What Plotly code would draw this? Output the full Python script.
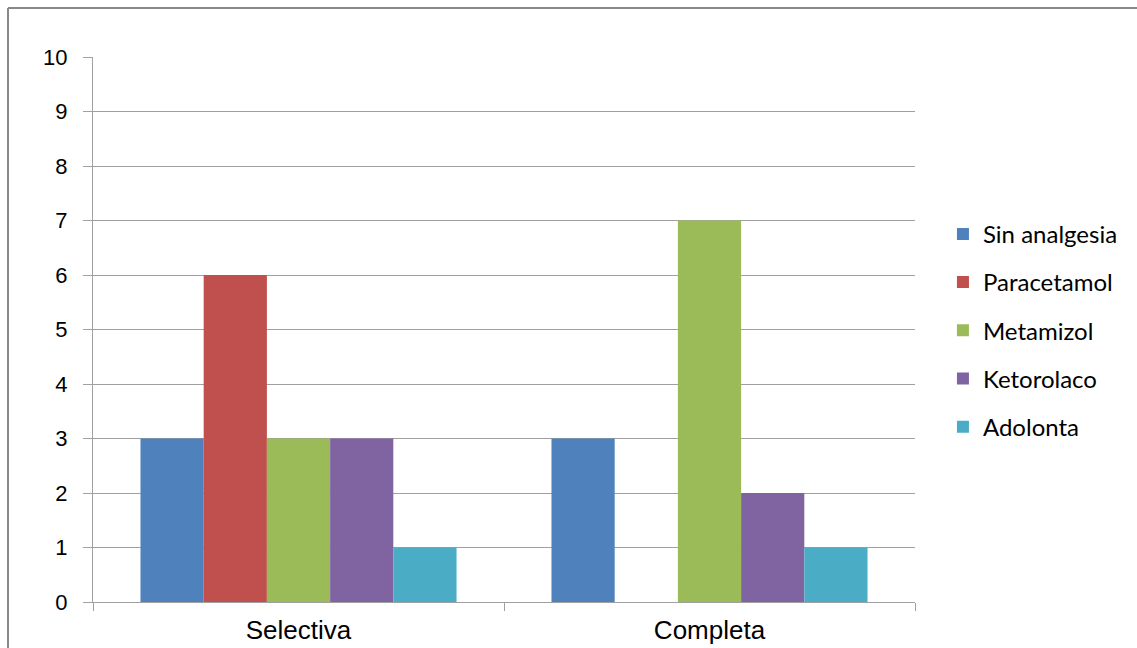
import plotly.graph_objects as go

categories = ["Selectiva", "Completa"]
series_names = ["Sin analgesia", "Paracetamol", "Metamizol", "Ketorolaco", "Adolonta"]
sin_analgesia = [3, 3]
paracetamol = [6, 0]
metamizol = [3, 7]
ketorolaco = [3, 2]
adolonta = [1, 1]
y_ticks = list(range(0, 11))

values = [sin_analgesia, paracetamol, metamizol, ketorolaco, adolonta]
colors = ["#4F81BD", "#C0504D", "#9BBB59", "#8064A2", "#4BACC6"]

fig = go.Figure()
for i, (name, vals, col) in enumerate(zip(series_names, values, colors)):
    fig.add_trace(go.Bar(
        x=categories, y=vals, name=name, marker_color=col,
        marker_line_width=0, legendgroup=name,
    ))

grid = "#A0A0A0"
W = 822.0
H = 545.0
fig.update_layout(
    width=1137, height=648,
    margin=dict(l=93, r=222, t=57, b=46, autoexpand=False),
    paper_bgcolor="white", plot_bgcolor="white",
    barmode="group", bargap=0.231, bargroupgap=0,
    font=dict(family="Liberation Sans, Arial, sans-serif", color="#000000"),
    legend=dict(
        x=1.034, y=0.716, xanchor="left", yanchor="top",
        font=dict(family="Lato, Open Sans, sans-serif", size=24, color="#000"),
        traceorder="grouped", tracegroupgap=14,
        bgcolor="rgba(0,0,0,0)", itemclick=False,
    ),
    xaxis=dict(
        type="category", showgrid=False, showline=True, linecolor=grid,
        ticks="outside", tickson="boundaries", ticklen=8, tickcolor=grid,
        tickfont=dict(size=26, family="Liberation Sans, Arial, sans-serif"),
        ticklabelstandoff=5, automargin=False,
        fixedrange=True,
    ),
    yaxis=dict(
        range=[0, 10], tickvals=y_ticks, showgrid=True, gridcolor=grid, gridwidth=1,
        showline=True, linecolor=grid, ticks="outside", ticklen=9, tickcolor=grid,
        tickfont=dict(size=22, family="Liberation Sans, Arial, sans-serif"),
        ticklabelstandoff=11, automargin=False,
        zeroline=False, fixedrange=True,
    ),
    shapes=[
        dict(type="line", xref="paper", yref="paper",
             x0=-85/W, x1=(1137-93)/W, y0=1 + 49/H, y1=1 + 49/H,
             line=dict(color="#888888", width=2)),
        dict(type="line", xref="paper", yref="paper",
             x0=-85/W, x1=-85/W, y0=1 + 49/H, y1=-46/H,
             line=dict(color="#888888", width=2)),
    ],
)

fig.write_html("out.html", config={"displayModeBar": False})
